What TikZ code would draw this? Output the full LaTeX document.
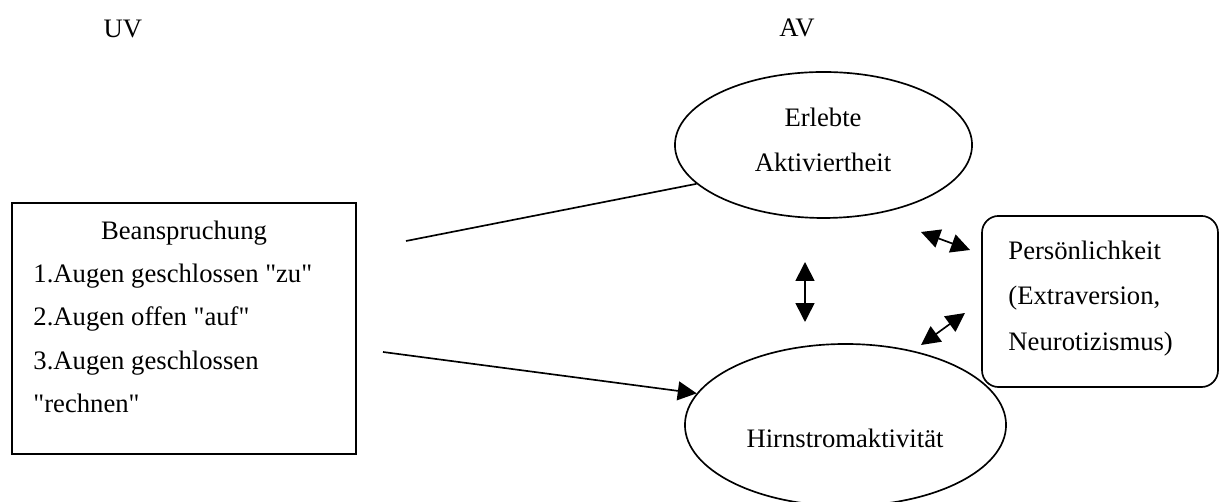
\documentclass[tikz,border=0pt]{standalone}
\usepackage{fontspec}
\setmainfont{Liberation Serif}
\usetikzlibrary{shapes.geometric, arrows.meta}

\begin{document}
\begin{tikzpicture}[
  x=0.45pt, y=-0.45pt,
  every node/.style={font=\fontsize{12}{14}\selectfont, inner sep=0pt},
  frame/.style={draw, line width=0.75pt},
  oval/.style={draw, ellipse, line width=0.75pt},
  link/.style={line width=0.75pt},
  arrow/.style={-{Triangle[length=8.5pt, width=8.5pt]}, line width=0.75pt},
  twoway/.style={{Triangle[length=8.5pt, width=8.5pt]}-{Triangle[length=8.5pt, width=8.5pt]}, line width=0.75pt},
]
\useasboundingbox (0,0) rectangle (1219,502);

% Column heads
\node[anchor=base] (uv) at (123,38) {UV};
\node[anchor=base] (av) at (797,37) {AV};

% Independent variable
\node[frame, minimum width=154.8pt, minimum height=113pt] (beans) at (184,328.5) {};
\node[anchor=base] (beansHead) at (184,240) {Beanspruchung};
\node[anchor=base west] (cond1) at (33,283) {1.Augen geschlossen \textquotedbl zu\textquotedbl};
\node[anchor=base west] (cond2) at (33,326) {2.Augen offen \textquotedbl auf\textquotedbl};
\node[anchor=base west] (cond3) at (33,370) {3.Augen geschlossen};
\node[anchor=base west] (cond3b) at (33,413) {\textquotedbl rechnen\textquotedbl};

% Dependent variables
\node[oval, minimum width=133.7pt, minimum height=65.7pt] (erlebt) at (823.5,145) {};
\node[anchor=base] (erlebtA) at (823,127) {Erlebte};
\node[anchor=base] (erlebtB) at (823,172) {Aktiviertheit};

\node[oval, minimum width=144.5pt, minimum height=72.9pt] (hirn) at (845.5,425) {};
\node[anchor=base] (hirnText) at (845,448) {Hirnstromaktivität};

% Personality
\node[frame, rounded corners=7.5pt, minimum width=106.2pt, minimum height=77pt] (person) at (1100,301.5) {};
\node[anchor=base west] (personA) at (1008,260) {Persönlichkeit};
\node[anchor=base west] (personB) at (1008,305) {(Extraversion,};
\node[anchor=base west] (personC) at (1008,351) {Neurotizismus)};

% Connectors
\coordinate (beansUp) at (406,241);
\coordinate (beansDown) at (383,352);
\draw[link] (beansUp) -- (erlebt.197);
\draw[arrow] (beansDown) -- (hirn.168);

\coordinate (midTop) at (805,262);
\coordinate (midLow) at (805,322);
\draw[twoway] (midTop) -- (midLow);

\coordinate (persUpA) at (921,232);
\coordinate (persUpB) at (970,250);
\draw[twoway] (persUpA) -- (persUpB);

\coordinate (persLowA) at (921,345);
\coordinate (persLowB) at (965,313);
\draw[twoway] (persLowA) -- (persLowB);
\end{tikzpicture}
\end{document}
